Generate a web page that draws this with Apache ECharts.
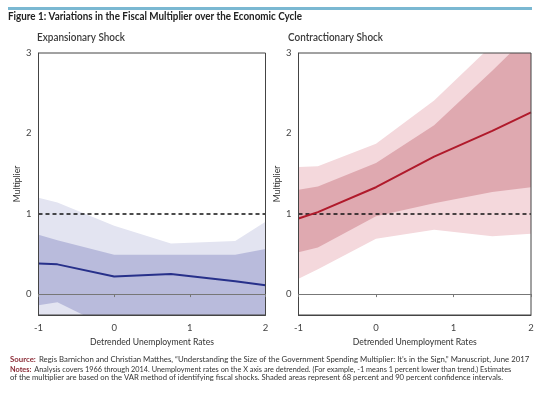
<!DOCTYPE html>
<html><head><meta charset="utf-8">
<script src="https://cdn.jsdelivr.net/npm/echarts@6/dist/echarts.min.js"></script>
<style>html,body{margin:0;padding:0;background:#fff}#c{width:540px;height:393px}</style>
</head><body><div id="c"></div>
<script>
// X positions (detrended unemployment rate)
var xPoints = [-1, -0.75, 0, 0.75, 1.6, 2];
// Expansionary shock
var expCenter  = [0.38, 0.37, 0.22, 0.25, 0.16, 0.11];
var expUp90    = [1.20, 1.14, 0.85, 0.63, 0.66, 0.90];
var expUp68    = [0.74, 0.67, 0.49, 0.49, 0.49, 0.56];
var expLo68    = [-0.14, -0.10, -0.45, -0.50, -0.50, -0.50];
var expLo90    = [-0.60, -0.60, -0.80, -0.90, -0.90, -0.90];
// Contractionary shock
var xPointsC   = [-1, -0.75, 0, 0.75, 1.5, 2];
var conCenter  = [0.94, 1.02, 1.33, 1.71, 2.03, 2.26];
var conUp90    = [1.58, 1.59, 1.87, 2.41, 3.10, 3.55];
var conUp68    = [1.30, 1.34, 1.63, 2.10, 2.78, 3.25];
var conLo68    = [0.52, 0.58, 0.97, 1.13, 1.27, 1.33];
var conLo90    = [0.19, 0.31, 0.69, 0.80, 0.72, 0.75];
var xTicks = [-1, 0, 1, 2];
var yTicks = [0, 1, 2, 3];
var refLevel = 1;

function pts(xs, ys){ return xs.map(function(x,i){ return [x, ys[i]]; }); }

var F = 'Lato, "Open Sans", sans-serif';
var mctx = document.createElement('canvas').getContext('2d');
function wid(text, weight, size){
  mctx.font = weight + ' ' + size + 'px ' + F;
  return mctx.measureText(text).width;
}

var titleText = 'Figure 1: Variations in the Fiscal Multiplier over the Economic Cycle';
var sub1 = 'Expansionary Shock', sub2 = 'Contractionary Shock';
var srcB = 'Source:', srcT = 'Regis Barnichon and Christian Matthes, \u201cUnderstanding the Size of the Government Spending Multiplier: It\u2019s in the Sign,\u201d Manuscript, June 2017';
var notesB = 'Notes:', notesT = 'Analysis covers 1966 through 2014. Unemployment rates on the X axis are detrended. (For example, -1 means 1 percent lower than trend.) Estimates';
var notes2 = 'of the multiplier are based on the VAR method of identifying fiscal shocks. Shaded areas represent 68 percent and 90 percent confidence intervals.';
var xName = 'Detrended Unemployment Rates';

var titleSize = 10.5, subSize = 11.5, footSize = 8.3;
var titleSX = 294 / wid(titleText, 'bold', titleSize);
var sub1SX = 88 / wid(sub1, '600', subSize);
var sub2SX = 95 / wid(sub2, '600', subSize);
var srcSX = 518 / (wid(srcB + ' ', 'bold', footSize) + wid(srcT, 'normal', footSize));
var notesSX = 500 / (wid(notesB + ' ', 'bold', footSize) + wid(notesT, 'normal', footSize));
var notes2SX = 493 / wid(notes2, 'normal', footSize);
var xNameSize = +(20 * 124 / wid(xName, 'normal', 20)).toFixed(2);

var chart = echarts.init(document.getElementById('c'), null, {renderer:'canvas'});

function area(gi, xs, ys, color, z){
  return {type:'line', xAxisIndex:gi*2, yAxisIndex:gi, data:pts(xs, ys), symbol:'none',
    lineStyle:{width:0, opacity:0}, areaStyle:{color:color, opacity:1, origin:'start'},
    z:z, silent:true, clip:true, animation:false};
}
function centerLine(gi, xs, ys, color){
  return {type:'line', xAxisIndex:gi*2, yAxisIndex:gi, data:pts(xs, ys), symbol:'none',
    lineStyle:{width:2, color:color}, z:6, clip:true, animation:false,
    markLine:{silent:true, symbol:'none', label:{show:false}, animation:false,
      data:[{yAxis:refLevel, lineStyle:{type:[4,3], color:'#111', width:1.5}}]}};
}

var grids = [
  {left:38.5, right:274.5, top:53, bottom:78},
  {left:298.5, right:9, top:53, bottom:78}
];
var xAxes = [], yAxes = [];
[0,1].forEach(function(gi){
  xAxes.push({type:'value', gridIndex:gi, min:-1, max:2, interval:1, position:'bottom',
    axisLine:{show:true, onZero:false, lineStyle:{color:'#444', width:1}},
    axisTick:{show:false}, splitLine:{show:false},
    axisLabel:{color:'#444', fontSize:9.5, fontFamily:F, margin:8},
    name:xName, nameLocation:'middle', nameGap:23,
    nameTextStyle:{color:'#333', fontSize:xNameSize, fontFamily:F}, z:10});
  xAxes.push({type:'value', gridIndex:gi, min:-1, max:2, interval:1, position:'bottom',
    axisLine:{show:true, onZero:true, lineStyle:{color:'#777', width:1}},
    axisTick:{show:true, inside:false, length:3, lineStyle:{color:'#777'}},
    axisLabel:{show:false}, splitLine:{show:false}, z:10});
  yAxes.push({type:'value', gridIndex:gi, min:-0.26, max:3, splitNumber:3,
    axisLine:{show:true, onZero:false, lineStyle:{color:'#444'}}, axisTick:{show:false}, splitLine:{show:false},
    axisLabel:{color:'#444', fontSize:9.5, fontFamily:F, margin:7, showMinLabel:false,
      formatter:function(v){ return yTicks.indexOf(v) >= 0 ? String(v) : ''; }},
    name:'Multiplier', nameLocation:'middle', nameGap:17, nameRotate:90,
    nameTextStyle:{color:'#333', fontSize:xNameSize, fontFamily:F}, z:10});
});

function richFoot(b, t){
  return {rich:{b:{font:'bold '+footSize+'px '+F, fill:'#8a2a35'}, n:{font:footSize+'px '+F, fill:'#333'}},
    text:'{b|'+b+'} {n|'+t+'}'};
}

var option = {
  backgroundColor:'#fff',
  animation:false,
  grid: grids.map(function(g){ return Object.assign({show:true, borderColor:'#444', borderWidth:1, backgroundColor:'transparent', z:10}, g); }),
  xAxis: xAxes,
  yAxis: yAxes,
  graphic: [
    {type:'rect', shape:{x:8, y:7, width:524, height:3}, style:{fill:'#7ab8d2'}},
    {type:'text', x:8, y:11.5, scaleX:titleSX, style:{text:titleText, font:'bold '+titleSize+'px '+F, fill:'#222'}},
    {type:'text', x:37, y:31, scaleX:sub1SX, style:{text:sub1, font:'600 '+subSize+'px '+F, fill:'#3a3a3a'}},
    {type:'text', x:288, y:31, scaleX:sub2SX, style:{text:sub2, font:'600 '+subSize+'px '+F, fill:'#3a3a3a'}},
    {type:'text', x:10, y:353, scaleX:srcSX, style:richFoot(srcB, srcT)},
    {type:'text', x:10, y:363.5, scaleX:notesSX, style:richFoot(notesB, notesT)},
    {type:'text', x:10, y:373.5, scaleX:notes2SX, style:{font:footSize+'px '+F, fill:'#333', text:notes2}}
  ],
  series: [
    area(0, xPoints, expUp90, '#e3e4f1', 2),
    area(0, xPoints, expUp68, '#b9bbdc', 3),
    area(0, xPoints, expLo68, '#e3e4f1', 4),
    area(0, xPoints, expLo90, '#ffffff', 5),
    centerLine(0, xPoints, expCenter, '#27308a'),
    area(1, xPointsC, conUp90, '#f4d8dc', 2),
    area(1, xPointsC, conUp68, '#dfa9b0', 3),
    area(1, xPointsC, conLo68, '#f4d8dc', 4),
    area(1, xPointsC, conLo90, '#ffffff', 5),
    centerLine(1, xPointsC, conCenter, '#b01a2b')
  ]
};
chart.setOption(option);
</script></body></html>
